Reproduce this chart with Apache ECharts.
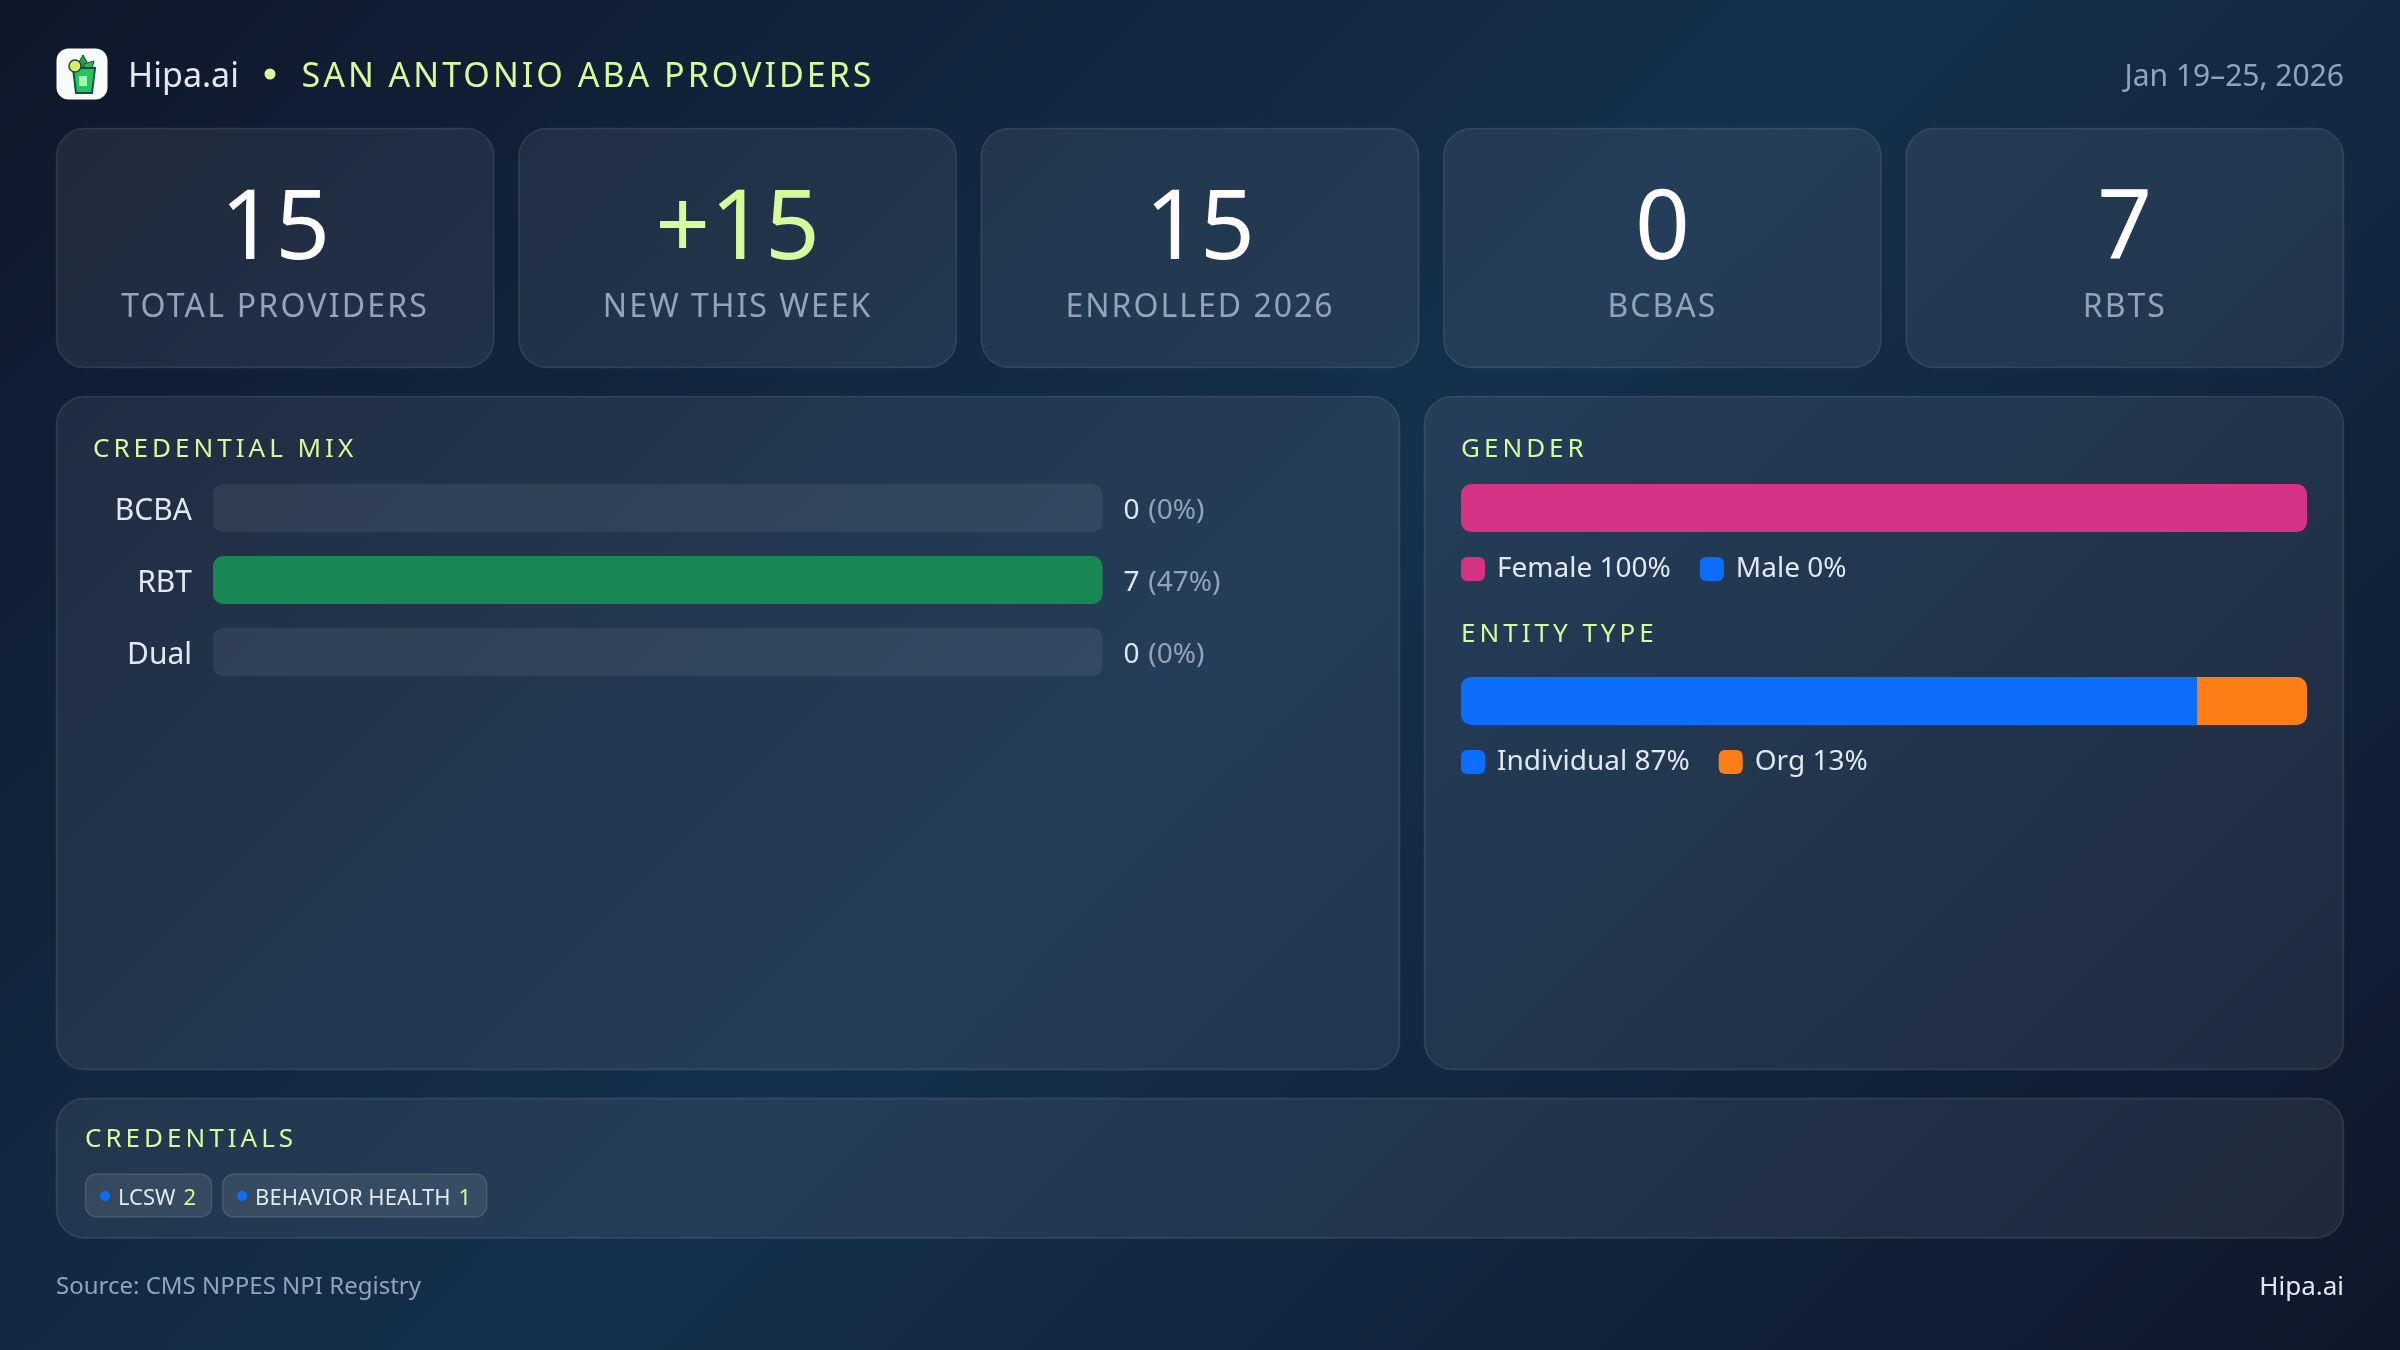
<!DOCTYPE html>
<html>
<head>
<meta charset="utf-8">
<style>
  html, body { margin: 0; width: 2400px; height: 1350px; overflow: hidden;
    background: linear-gradient(135deg, #0f172a 0%, #14304d 50%, #0f172a 100%); }
  #main { width: 2400px; height: 1350px; }
</style>
<script src="https://cdn.jsdelivr.net/npm/echarts@6/dist/echarts.min.js"></script>
</head>
<body>
<div id="main"></div>
<script>
// values
const kpiValues = ['15', '+15', '15', '0', '7'];
const kpiLabels = ['TOTAL PROVIDERS', 'NEW THIS WEEK', 'ENROLLED 2026', 'BCBAS', 'RBTS'];
const mixCategories = ['BCBA', 'RBT', 'Dual'];
const mixCounts = [0, 7, 0];
const mixPercents = [0, 47, 0];
const genderNames = ['Female', 'Male'];
const genderValues = [100, 0];
const entityNames = ['Individual', 'Org'];
const entityValues = [87, 13];
const credentialNames = ['LCSW', 'BEHAVIOR HEALTH'];
const credentialCounts = [2, 1];

const LIME = '#d9f99d', TEXT = '#e2e8f0', MUTED = '#94a3b8', FONT = '"Noto Sans"';
const PINK = '#d63384', BLUE = '#0d6efd', ORANGE = '#fd7e14', GREEN = '#198754';

// zrender has no letter spacing, so hand it to the canvas per string
const spacing = {
  'SAN ANTONIO ABA PROVIDERS': 3,
  'TOTAL PROVIDERS': 2.2, 'NEW THIS WEEK': 2, 'ENROLLED 2026': 2, 'BCBAS': 2, 'RBTS': 2,
  'CREDENTIAL MIX': 4, 'GENDER': 4, 'ENTITY TYPE': 4, 'CREDENTIALS': 4
};
const fillText = CanvasRenderingContext2D.prototype.fillText;
CanvasRenderingContext2D.prototype.fillText = function (t, x, y, w) {
  this.letterSpacing = (spacing[t] || 0) + 'px';
  fillText.call(this, t, x, y, w);
};

const measure = document.createElement('canvas').getContext('2d');
function textWidth(t, size) {
  measure.font = size + 'px ' + FONT;
  return measure.measureText(t).width;
}

// stroke sits inside the box, like a css border
function box(x, y, width, height, r, fill, stroke) {
  return { type: 'rect', shape: { x: x + 0.5, y: y + 0.5, width: width - 1, height: height - 1, r },
    style: { fill, stroke, lineWidth: stroke ? 1.5 : 0 }, silent: true };
}
function label(text, x, y, size, fill, align) {
  return { type: 'text', x, y, silent: true,
    style: { text, fill, font: size + 'px ' + FONT, textAlign: align || 'left', textVerticalAlign: 'middle' } };
}

const PANEL = 'rgba(255,255,255,0.07)', EDGE = 'rgba(255,255,255,0.11)';
const graphics = [];

// header
graphics.push(box(56, 48, 52, 52, 12, '#f8fbf6'));
graphics.push({ type: 'polygon', shape: { points: [[83, 55], [87, 62], [83, 68], [79, 62]] }, style: { fill: '#2f9e44', stroke: '#0b4f45', lineWidth: 1 }, silent: true });
graphics.push({ type: 'polygon', shape: { points: [[84, 64], [94, 61], [92, 68], [85, 69]] }, style: { fill: '#37b24d', stroke: '#0b4f45', lineWidth: 1 }, silent: true });
graphics.push({ type: 'polygon', shape: { points: [[73, 68], [95, 68], [92, 93], [76, 93]] }, style: { fill: '#22c55e', stroke: '#0b4f45', lineWidth: 2 }, silent: true });
graphics.push({ type: 'rect', shape: { x: 79, y: 76, width: 8, height: 10 }, style: { fill: '#a7f3b0' }, silent: true });
graphics.push({ type: 'circle', shape: { cx: 75, cy: 66, r: 6 }, style: { fill: '#dcec5f', stroke: '#0b4f45', lineWidth: 1.5 }, silent: true });
graphics.push(label('Hipa.ai', 128, 77, 34, TEXT));
graphics.push({ type: 'circle', shape: { cx: 270, cy: 74, r: 5.5 }, style: { fill: LIME }, silent: true });
graphics.push(label('SAN ANTONIO ABA PROVIDERS', 301.5, 77, 34, LIME));
graphics.push(label('Jan 19\u201325, 2026', 2344, 77, 30, MUTED, 'right'));

// KPI cards
kpiValues.forEach((v, i) => {
  const x = 56 + i * 462.4;
  graphics.push(box(x, 128, 438.4, 240, 28, PANEL, EDGE));
  graphics.push(label(v, x + 219.2, 232, 96, i === 1 ? LIME : '#ffffff', 'center'));
  graphics.push(label(kpiLabels[i], x + 219.2, 308, 32, MUTED, 'center'));
});

// panels
graphics.push(box(56, 396, 1344, 674, 28, PANEL, EDGE));
graphics.push(box(1424, 396, 920, 674, 28, PANEL, EDGE));
graphics.push(box(56, 1098, 2288, 140.5, 28, PANEL, EDGE));
graphics.push(label('CREDENTIAL MIX', 93, 450, 26, LIME));
graphics.push(label('GENDER', 1461, 450, 26, LIME));
graphics.push(label('ENTITY TYPE', 1461, 635, 26, LIME));
graphics.push(label('CREDENTIALS', 85, 1140, 26, LIME));

// credential chips
let chipX = 85;
credentialNames.forEach((name, i) => {
  const nameW = textWidth(name, 22), countW = textWidth(String(credentialCounts[i]), 22);
  const w = 33 + nameW + 8 + countW + 16;
  graphics.push(box(chipX, 1173.5, w, 44, 11, 'rgba(255,255,255,0.09)', 'rgba(255,255,255,0.12)'));
  graphics.push({ type: 'circle', shape: { cx: chipX + 20, cy: 1196, r: 5 }, style: { fill: BLUE }, silent: true });
  graphics.push(label(name, chipX + 33, 1199, 22, TEXT));
  graphics.push(label(String(credentialCounts[i]), chipX + 33 + nameW + 8, 1199, 22, LIME));
  chipX += w + 10;
});

// footer
graphics.push(label('Source: CMS NPPES NPI Registry', 56, 1287, 24, MUTED));
graphics.push(label('Hipa.ai', 2344, 1288, 26, TEXT, 'right'));

const mixMax = Math.max(...mixCounts);
const hiddenX = (gridIndex, max) => ({ type: 'value', gridIndex, min: 0, max, show: false });
const hiddenY = (gridIndex) => ({ type: 'category', gridIndex, data: [''], show: false });

function shareSeries(name, value, index, color, radius, stack) {
  return { name, type: 'bar', xAxisIndex: index, yAxisIndex: index, stack, barWidth: 48,
    data: [value], itemStyle: { color, borderRadius: radius }, silent: true };
}
function shareLegend(names, values, top) {
  return { show: true, left: 1461, top, padding: 0, icon: 'roundRect', itemWidth: 24, itemHeight: 24, itemGap: 29,
    data: names, selectedMode: false,
    formatter: (n) => n + ' ' + values[names.indexOf(n)] + '%',
    textStyle: { color: TEXT, fontSize: 28, fontFamily: FONT, padding: [0, 0, 0, 7] } };
}

const option = {
  animation: false,
  graphic: graphics,
  legend: [shareLegend(genderNames, genderValues, 555), shareLegend(entityNames, entityValues, 748)],
  grid: [
    { left: 213, top: 472, width: 889.5, height: 216 },
    { left: 1461, top: 484, width: 846, height: 48 },
    { left: 1461, top: 677, width: 846, height: 48 }
  ],
  xAxis: [hiddenX(0, mixMax), hiddenX(1, 100), hiddenX(2, 100)],
  yAxis: [
    { type: 'category', gridIndex: 0, inverse: true, data: mixCategories,
      axisLine: { show: false }, axisTick: { show: false },
      axisLabel: { color: TEXT, fontSize: 30, fontFamily: FONT, margin: 21, verticalAlign: 'top', lineHeight: 6 } },
    hiddenY(1), hiddenY(2)
  ],
  series: [
    { name: 'track', type: 'bar', xAxisIndex: 0, yAxisIndex: 0, barWidth: 48, barGap: '-100%', silent: true,
      data: mixCounts.map(() => mixMax),
      itemStyle: { color: 'rgba(255,255,255,0.07)', borderRadius: 10 },
      label: { show: true, position: 'right', distance: 21, fontFamily: FONT, fontSize: 28, padding: [6, 0, 0, 0],
        formatter: (p) => '{v|' + mixCounts[p.dataIndex] + '} {p|(' + mixPercents[p.dataIndex] + '%)}',
        rich: { v: { color: TEXT, fontSize: 28, fontFamily: FONT },
          p: { color: MUTED, fontSize: 28, fontFamily: FONT, padding: [0, 0, 0, 1.5] } } } },
    { name: 'count', type: 'bar', xAxisIndex: 0, yAxisIndex: 0, barWidth: 48, barGap: '-100%', silent: true,
      data: mixCounts, itemStyle: { color: GREEN, borderRadius: 10 } },
    shareSeries(genderNames[0], genderValues[0], 1, PINK, 10, 'gender'),
    shareSeries(genderNames[1], genderValues[1], 1, BLUE, 0, 'gender'),
    shareSeries(entityNames[0], entityValues[0], 2, BLUE, [10, 0, 0, 10], 'entity'),
    shareSeries(entityNames[1], entityValues[1], 2, ORANGE, [0, 10, 10, 0], 'entity')
  ]
};

const myChart = echarts.init(document.getElementById('main'));
myChart.setOption(option);
</script>
</body>
</html>
